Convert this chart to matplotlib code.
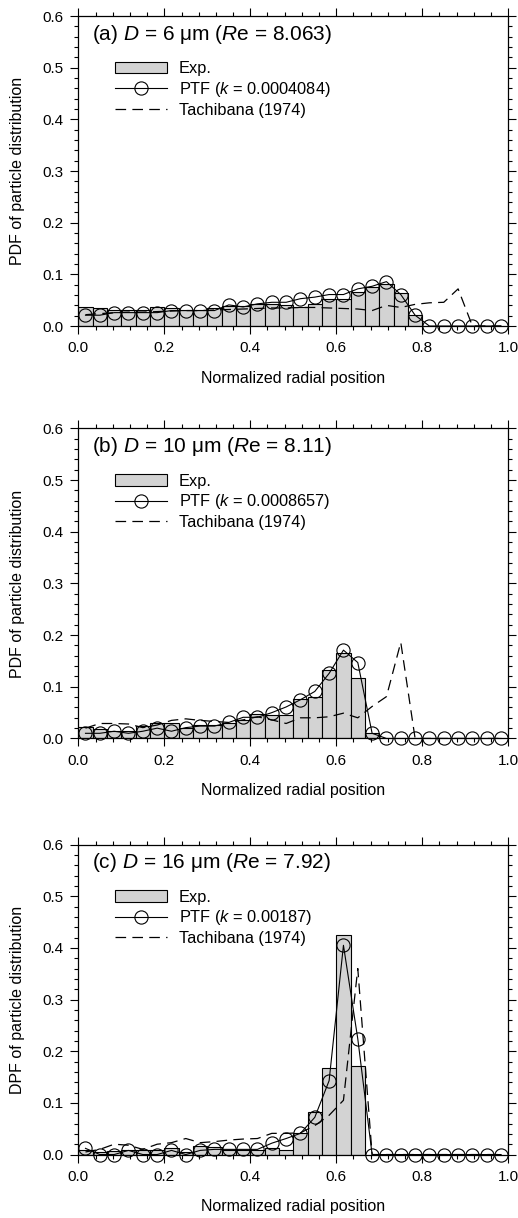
import numpy as np
import matplotlib
matplotlib.use("Agg")
import matplotlib.pyplot as plt
from matplotlib.ticker import MultipleLocator, FormatStrFormatter

plt.rcParams['font.family'] = ['Liberation Sans', 'DejaVu Sans']
plt.rcParams['mathtext.fontset'] = 'custom'
plt.rcParams['mathtext.rm'] = 'Liberation Sans'
plt.rcParams['mathtext.it'] = 'Liberation Sans:italic'

# 30 radial bins of width 1/30
n_bins = 30
bin_width = 1.0 / n_bins
centers = (np.arange(n_bins) + 0.5) * bin_width

# (a) D = 6 um
exp_a = [0.037, 0.035, 0.032, 0.032, 0.032, 0.037, 0.035, 0.032, 0.032, 0.034,
         0.039, 0.039, 0.043, 0.043, 0.040, 0.037, 0.043, 0.053, 0.053, 0.066,
         0.075, 0.082, 0.064, 0.022]
ptf_a = [0.021, 0.021, 0.026, 0.026, 0.026, 0.026, 0.030, 0.030, 0.030, 0.030,
         0.041, 0.037, 0.043, 0.046, 0.046, 0.053, 0.056, 0.061, 0.061, 0.072,
         0.077, 0.086, 0.061, 0.021, 0.0, 0.0, 0.0, 0.0, 0.0, 0.0]
tach_a = [0.022, 0.024, 0.026, 0.027, 0.027, 0.028, 0.029, 0.030, 0.030, 0.031,
          0.032, 0.033, 0.034, 0.035, 0.035, 0.036, 0.036, 0.035, 0.034, 0.033,
          0.030, 0.040, 0.036, 0.042, 0.045, 0.046, 0.072, 0.0, 0.0, 0.0]

# (b) D = 10 um
exp_b = [0.0215, 0.018, 0.015, 0.015, 0.025, 0.029, 0.029, 0.020, 0.026, 0.026,
         0.029, 0.035, 0.047, 0.046, 0.046, 0.076, 0.080, 0.132, 0.165, 0.117,
         0.011]
ptf_b = [0.010, 0.010, 0.014, 0.010, 0.014, 0.020, 0.014, 0.021, 0.024, 0.024,
         0.031, 0.041, 0.041, 0.050, 0.061, 0.075, 0.091, 0.126, 0.171, 0.147,
         0.010, 0.0, 0.0, 0.0, 0.0, 0.0, 0.0, 0.0, 0.0, 0.0]
tach_b = [0.020, 0.029, 0.029, 0.028, 0.021, 0.026, 0.035, 0.038, 0.035, 0.033,
          0.031, 0.036, 0.042, 0.036, 0.029, 0.040, 0.040, 0.042, 0.049, 0.040,
          0.062, 0.081, 0.186, 0.0, 0.0, 0.0, 0.0, 0.0, 0.0, 0.0]

# (c) D = 16 um
exp_c = [0.0085, 0.005, 0.006, 0.008, 0.008, 0.008, 0.012, 0.005, 0.016, 0.014,
         0.008, 0.008, 0.008, 0.013, 0.008, 0.042, 0.082, 0.167, 0.425, 0.172]
ptf_c = [0.012, 0.0, 0.0, 0.008, 0.0, 0.0, 0.008, 0.0, 0.008, 0.010,
         0.010, 0.010, 0.010, 0.022, 0.031, 0.041, 0.072, 0.143, 0.405, 0.224,
         0.0, 0.0, 0.0, 0.0, 0.0, 0.0, 0.0, 0.0, 0.0, 0.0]
tach_c = [0.005, 0.010, 0.020, 0.018, 0.010, 0.020, 0.023, 0.031, 0.023, 0.025,
          0.028, 0.030, 0.031, 0.041, 0.041, 0.042, 0.056, 0.076, 0.105, 0.360,
          0.0, 0.0, 0.0, 0.0, 0.0, 0.0, 0.0, 0.0, 0.0, 0.0]

titles = [r"(a) $\mathit{D}$ = 6 μm ($\mathit{R}$e = 8.063)",
          r"(b) $\mathit{D}$ = 10 μm ($\mathit{R}$e = 8.11)",
          r"(c) $\mathit{D}$ = 16 μm ($\mathit{R}$e = 7.92)"]
ptf_labels = [r"PTF ($\mathit{k}$ = 0.0004084)",
              r"PTF ($\mathit{k}$ = 0.0008657)",
              r"PTF ($\mathit{k}$ = 0.00187)"]
ylabels = ["PDF of particle distribution",
           "PDF of particle distribution",
           "DPF of particle distribution"]

panels = [(exp_a, ptf_a, tach_a), (exp_b, ptf_b, tach_b), (exp_c, ptf_c, tach_c)]
bottoms = [0.7323, 0.3937, 0.0521]


def draw_panel(ax, exp, ptf, tach, title, ptf_label, ylabel):
    edges = np.arange(len(exp)) * bin_width
    bars = ax.bar(edges, exp, width=bin_width, align='edge', color='#d3d3d3',
                  edgecolor='black', linewidth=0.8, label='Exp.')
    ptf_line, = ax.plot(centers, ptf, color='black', linewidth=0.8, marker='o',
                        markersize=9.5, markerfacecolor='none',
                        markeredgewidth=0.8, label=ptf_label, clip_on=False,
                        zorder=3)
    tach_line, = ax.plot(centers, tach, color='black', linewidth=0.9,
                         dashes=(8.5, 5), label='Tachibana (1974)', zorder=4)

    ax.set_xlim(0, 1)
    ax.set_ylim(0, 0.6)
    ax.xaxis.set_major_locator(MultipleLocator(0.2))
    ax.xaxis.set_minor_locator(MultipleLocator(0.04))
    ax.yaxis.set_major_locator(MultipleLocator(0.1))
    ax.yaxis.set_minor_locator(MultipleLocator(0.02))
    ax.xaxis.set_major_formatter(FormatStrFormatter('%.1f'))
    ax.yaxis.set_major_formatter(FormatStrFormatter('%.1f'))
    ax.tick_params(which='both', direction='out', top=True, right=True,
                   labelsize=11, width=0.8, pad=5)
    ax.tick_params(which='major', length=6)
    ax.tick_params(which='minor', length=3)
    for s in ax.spines.values():
        s.set_linewidth(0.9)

    ax.set_xlabel("Normalized radial position", fontsize=11.5, labelpad=11)
    ax.set_ylabel(ylabel, fontsize=11.5, labelpad=12)
    ax.text(0.031, 0.942, title, transform=ax.transAxes, fontsize=15,
            va='center', ha='left')
    ax.legend([bars, ptf_line, tach_line],
              ['Exp.', ptf_label, 'Tachibana (1974)'],
              loc='upper left', bbox_to_anchor=(0.07, 0.875), frameon=False,
              fontsize=11.8, handlelength=3.2, labelspacing=0.22,
              handletextpad=0.7, borderaxespad=0)


fig = plt.figure(figsize=(5.18, 12.18), dpi=100)
for i in range(3):
    ax = fig.add_axes([0.1512, bottoms[i], 0.830, 0.2545])
    exp, ptf, tach = panels[i]
    draw_panel(ax, exp, ptf, tach, titles[i], ptf_labels[i], ylabels[i])

fig.savefig("out.png", dpi=100)
